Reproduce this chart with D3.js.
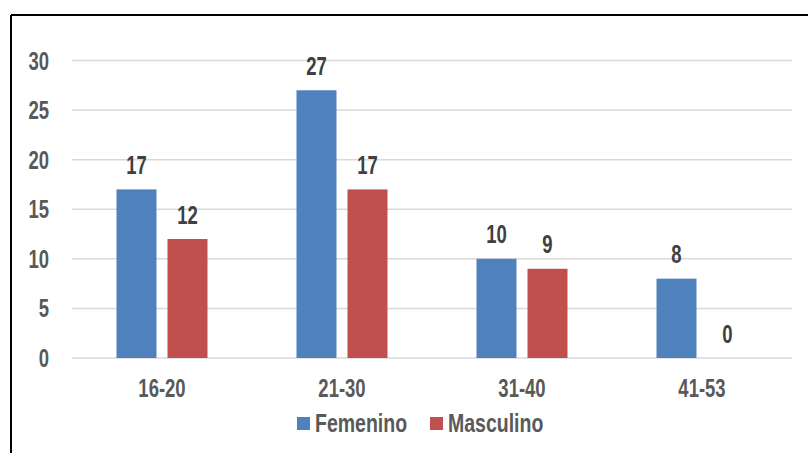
<!DOCTYPE html>
<html>
<head>
<meta charset="utf-8">
<script src="https://cdn.jsdelivr.net/npm/d3@7"></script>
<style>
  html, body { margin: 0; padding: 0; background: #fff; }
  svg { display: block; }
  text { font-family: "Liberation Sans Narrow", "Arial Narrow", "Liberation Sans", Arial, sans-serif; font-weight: bold; }
</style>
</head>
<body>
<svg id="chart" width="808" height="453"></svg>
<script>
// Age groups and counts by sex
const categories = ["16-20", "21-30", "31-40", "41-53"];
const seriesNames = ["Femenino", "Masculino"];
const femenino = [17, 27, 10, 8];
const masculino = [12, 17, 9, 0];
const yTicks = [0, 5, 10, 15, 20, 25, 30];
const colors = ["#4F81BD", "#C0504D"];

const seriesValues = [femenino, masculino];
const svg = d3.select("#chart");
const W = 808, H = 453;
const FS = "25px";       // label font size
const NUM_SX = 0.74;     // horizontal condensing for numeric labels
const LEG_SX = 0.78;     // horizontal condensing for legend labels

// Chart frame (top and left edges visible)
svg.append("line").attr("x1", 11).attr("x2", W).attr("y1", 15).attr("y2", 15)
  .attr("stroke", "#000").attr("stroke-width", 2);
svg.append("line").attr("x1", 11).attr("x2", 11).attr("y1", 15).attr("y2", H)
  .attr("stroke", "#000").attr("stroke-width", 2);

const plot = { left: 72, right: 792, top: 60.5, bottom: 358 };

const x = d3.scaleBand().domain(categories).range([plot.left, plot.right]);
const y = d3.scaleLinear().domain([0, 30]).range([plot.bottom, plot.top]);

const barW = 40, gap = 11;
const xs = d3.scaleBand().domain(seriesNames)
  .range([x.bandwidth() / 2 - barW - gap / 2, x.bandwidth() / 2 + barW + gap / 2])
  .paddingInner(gap / (barW + gap));

// Gridlines
svg.append("g").selectAll("line").data(yTicks).join("line")
  .attr("x1", plot.left).attr("x2", plot.right)
  .attr("y1", d => y(d)).attr("y2", d => y(d))
  .attr("stroke", "#d9d9d9").attr("stroke-width", 1.5);

// Y axis labels
const yAxis = d3.axisLeft(y).tickValues(yTicks).tickSize(0).tickPadding(0);
const gy = svg.append("g").attr("transform", "translate(49,0)").call(yAxis);
gy.select(".domain").remove();
gy.selectAll("text").attr("fill", "#595959").style("font-size", FS)
  .style("font-family", null).attr("x", 0).attr("dy", "0.34em")
  .attr("transform", `scale(${NUM_SX},1)`);

// X axis labels
const xAxis = d3.axisBottom(x).tickSize(0).tickPadding(0);
const gx = svg.append("g").attr("transform", "translate(0,397)").call(xAxis);
gx.select(".domain").remove();
gx.selectAll("text").attr("fill", "#595959").style("font-size", FS)
  .style("font-family", null).attr("y", 0).attr("dy", 0)
  .attr("transform", `scale(${NUM_SX},1)`);

// Bars and value labels
const groups = svg.append("g").selectAll("g").data(categories).join("g")
  .attr("transform", c => `translate(${x(c)},0)`);

seriesNames.forEach((s, si) => {
  groups.append("rect")
    .attr("x", xs(s))
    .attr("width", xs.bandwidth())
    .attr("y", (c, i) => y(seriesValues[si][i]))
    .attr("height", (c, i) => y(0) - y(seriesValues[si][i]))
    .attr("fill", colors[si]);
  groups.append("text")
    .attr("transform", (c, i) =>
      `translate(${xs(s) + xs.bandwidth() / 2},${y(seriesValues[si][i]) - 15.5}) scale(${NUM_SX},1)`)
    .attr("text-anchor", "middle")
    .attr("fill", "#404040").style("font-size", FS)
    .text((c, i) => seriesValues[si][i]);
});

// Legend
const legendItems = [
  { name: seriesNames[0], color: colors[0], x: 297 },
  { name: seriesNames[1], color: colors[1], x: 430 }
];
const lg = svg.append("g").selectAll("g").data(legendItems).join("g")
  .attr("transform", d => `translate(${d.x},417)`);
lg.append("rect").attr("width", 13).attr("height", 13).attr("fill", d => d.color);
lg.append("text").attr("transform", `translate(18,15) scale(${LEG_SX},1)`)
  .attr("fill", "#595959").style("font-size", FS).text(d => d.name);
</script>
</body>
</html>
